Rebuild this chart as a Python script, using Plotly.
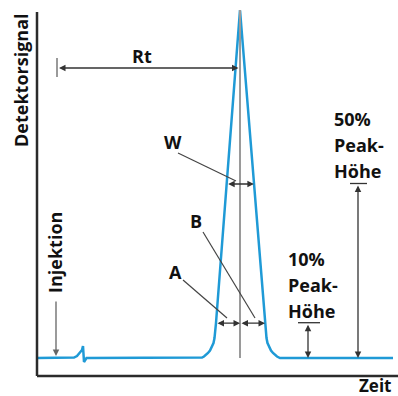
import numpy as np
import plotly.graph_objects as go

# ---- data (arbitrary units: time t, detector signal s) ----
curve_t = [0, 33, 37, 40, 43, 45, 46, 47, 49.5, 163, 165, 167, 169, 171, 173, 175, 176.5, 177.5, 179,
           203, 228, 229.5, 230.5, 232, 234, 236, 238, 240, 243, 356]
curve_s = [18, 18, 18.5, 20, 23, 26, 30, 14, 18, 18, 18.5, 19.5, 21, 23, 25.5, 29, 33, 38, 53,
           366, 53, 38, 33, 29, 25.5, 23, 21, 19.5, 18, 18]
peak_time = 203
baseline = 18
peak_height = 348
injection_time = 19
axis_len_t = 361
axis_len_s = 364
label_50 = ["50%", "Peak-", "Höhe"]
label_10 = ["10%", "Peak-", "Höhe"]

BLUE = "#1f9ad6"
DARK = "#333333"
GREY = "#9a9a9a"
FONT = dict(family="Open Sans", size=18, color="#111111")

t = np.array(curve_t, float)
s = np.array(curve_s, float)
apex = int(np.argmax(s))
def width_at(frac):
    lvl = baseline + frac * peak_height
    lt = np.interp(lvl, s[apex - 1:apex + 1], t[apex - 1:apex + 1])
    rt = np.interp(lvl, s[apex:apex + 2][::-1], t[apex:apex + 2][::-1])
    return lvl, lt, rt

h50, l50, r50 = width_at(0.5)
h10, l10, r10 = width_at(0.1)

fig = go.Figure()
fig.add_trace(go.Scatter(x=curve_t, y=curve_s, mode="lines",
                         line=dict(color=BLUE, width=2.5), hoverinfo="skip"))

shapes = []
def line(x0, y0, x1, y1, color, width):
    shapes.append(dict(type="line", xref="x", yref="y", x0=x0, y0=y0, x1=x1, y1=y1,
                       line=dict(color=color, width=width), layer="above"))

# axes
line(0, 0, 0, axis_len_s, "#2b2b2b", 2.5)
line(0, 0, axis_len_t + 5, 0, "#2b2b2b", 2.5)
# retention vertical
line(peak_time, baseline + peak_height, peak_time, baseline, GREY, 2)
# Rt start tick
line(20, 299, 20, 318, GREY, 2)
# height ticks
line(261, h10 + 0.5, 283, h10 + 0.5, DARK, 1.3)
line(313, h50 + 0.5, 330, h50 + 0.5, DARK, 1.3)
# leader lines
line(141, 223, 199, 195, "#444444", 1.2)   # W
line(166, 144, 218, 58, "#444444", 1.2)    # B
line(146, 96, 190, 58, "#444444", 1.2)     # A

ann = []
def arrow(x0, y0, x1, y1, both=True, color=DARK):
    ann.append(dict(x=x1, y=y1, ax=x0, ay=y0, xref="x", yref="y", axref="x", ayref="y",
                    showarrow=True, arrowhead=2, startarrowhead=2, arrowsize=1.0,
                    startarrowsize=1.0, arrowwidth=1.3, arrowcolor=color,
                    arrowside="end+start" if both else "end", text="",
                    standoff=0, startstandoff=0))

arrow(20.5, 308, peak_time - 1.5, 308)            # Rt
arrow(l50, h50, r50, h50)                         # W
arrow(l10, h10, peak_time, h10)                   # A
arrow(peak_time, h10, r10, h10)                   # B
arrow(271, h10, 271, baseline)                    # 10 %
arrow(321, h50, 321, baseline)                    # 50 %
arrow(injection_time, 76, injection_time, baseline + 2, both=False, color="#666666")

def label(x, y, text, angle=0, xanchor="center", align="center", size=18):
    ann.append(dict(x=x, y=y, xref="x", yref="y", text=text, showarrow=False,
                    textangle=angle, font=dict(FONT, size=size), xanchor=xanchor,
                    yanchor="middle", align=align))

label(-16, 296, "<b>Detektorsignal</b>", angle=-90)
label(105, 320, "<b>Rt</b>")
label(136, 234, "<b>W</b>")
label(159, 155, "<b>B</b>")
label(138, 104, "<b>A</b>")
label(18, 123, "<b>Injektion</b>", angle=-90)
for i, txt in enumerate(label_50):
    label(295, 257.3 - 26.3 * i, f"<b>{txt}</b>", xanchor="left", align="left")
for i, txt in enumerate(label_10):
    label(249, 117.3 - 26.3 * i, f"<b>{txt}</b>", xanchor="left", align="left")
label(320, -9, "<b>Zeit</b>", xanchor="left", align="left", size=17)

fig.update_layout(
    width=398, height=396, autosize=False,
    margin=dict(l=0, r=0, t=0, b=0),
    paper_bgcolor="white", plot_bgcolor="white",
    showlegend=False, shapes=shapes, annotations=ann,
    xaxis=dict(range=[-37, 361], visible=False, fixedrange=True),
    yaxis=dict(range=[-20, 376], visible=False, fixedrange=True),
)
fig.write_html("out.html", config={"displayModeBar": False},
               post_script="document.body.style.margin='0';document.body.style.overflow='hidden';")
